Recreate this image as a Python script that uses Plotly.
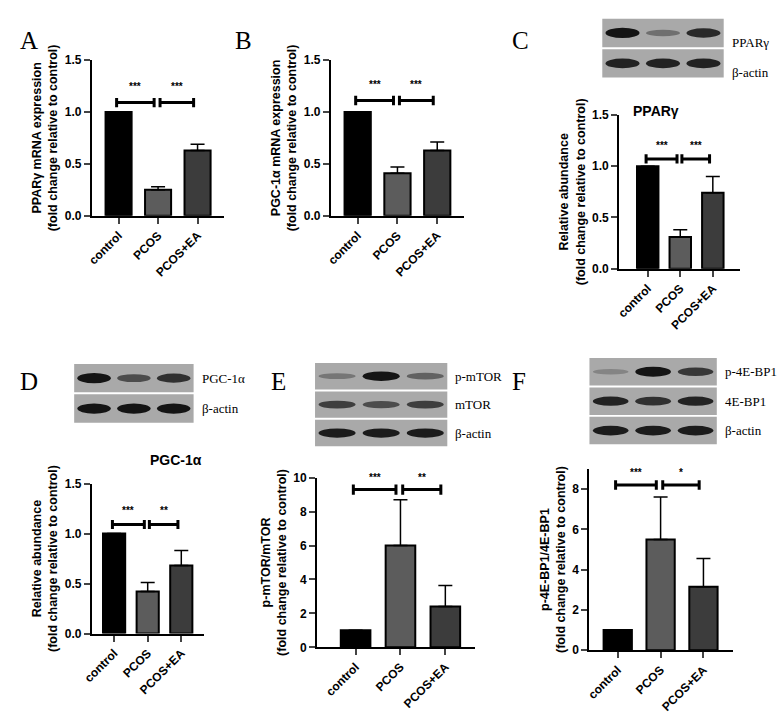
import plotly.graph_objects as go

W, H = 778, 720

groups = ["control", "PCOS", "PCOS+EA"]
bar_colors = ["#000000", "#5c5c5c", "#3c3c3c"]

# means and SEM per panel
a_mean = [1.0, 0.25, 0.63]
a_err = [0.0, 0.03, 0.06]
b_mean = [1.0, 0.41, 0.63]
b_err = [0.0, 0.06, 0.08]
c_mean = [1.0, 0.31, 0.74]
c_err = [0.0, 0.07, 0.16]
d_mean = [1.0, 0.42, 0.68]
d_err = [0.0, 0.09, 0.15]
e_mean = [1.0, 6.0, 2.4]
e_err = [0.0, 2.7, 1.25]
f_mean = [1.0, 5.5, 3.15]
f_err = [0.0, 2.1, 1.4]

# significance marks: (bracket height, star height, left label, right label)
a_sig = (1.09, 1.24, "***", "***")
b_sig = (1.11, 1.26, "***", "***")
c_sig = (1.07, 1.2, "***", "***")
d_sig = (1.09, 1.23, "***", "**")
e_sig = (9.3, 10.0, "***", "**")
f_sig = (8.2, 8.8, "***", "*")

# tick labels
small_ticks = [0, 0.5, 1.0, 1.5]
e_ticks = [0, 2, 4, 6, 8, 10]
f_ticks = [0, 2, 4, 6, 8]

# blot band intensities (0 = none, 1 = strong) per strip
c_blot = [("PPARγ", [1.0, 0.35, 0.85]), ("β-actin", [0.9, 0.9, 0.9])]
d_blot = [("PGC-1α", [1.0, 0.6, 0.8]), ("β-actin", [1.0, 1.0, 1.0])]
e_blot = [("p-mTOR", [0.3, 1.0, 0.45]), ("mTOR", [0.7, 0.6, 0.7]), ("β-actin", [0.95, 0.95, 0.95])]
f_blot = [("p-4E-BP1", [0.2, 1.0, 0.75]), ("4E-BP1", [0.9, 0.8, 0.9]), ("β-actin", [0.95, 0.95, 0.95])]

fig = go.Figure()
FONT = "Arial"


def px_x(x):
    return x / W


def px_y(y):
    return 1 - y / H


def panel(n, mean, err, sig, box, xr, yr, ticks, ytitle, title=None, title_xy=None):
    # box: (x_left, x_right, y_top, y_bottom) pixels of the axes
    xa = "xaxis" if n == 1 else f"xaxis{n}"
    ya = "yaxis" if n == 1 else f"yaxis{n}"
    xs = "x" if n == 1 else f"x{n}"
    ys = "y" if n == 1 else f"y{n}"
    fig.add_trace(go.Bar(
        x=[0, 1, 2], y=mean, width=0.66, xaxis=xs, yaxis=ys,
        marker=dict(color=bar_colors, line=dict(color="black", width=2)),
        error_y=dict(type="data", symmetric=False, array=err, arrayminus=[0, 0, 0],
                     color="black", thickness=1.5, width=7, visible=True),
        showlegend=False, hoverinfo="skip"))
    yb, ys_, l1, l2 = sig
    wing = (ticks[-1]) * 0.03
    for (x0, x1, lab) in [(-0.05, 0.9, l1), (1.05, 1.9, l2)]:
        fig.add_trace(go.Scatter(
            x=[x0, x0, x0, x1, x1, x1], y=[yb - wing, yb + wing, yb, yb, yb + wing, yb - wing],
            mode="lines", line=dict(color="black", width=3), xaxis=xs, yaxis=ys,
            showlegend=False, hoverinfo="skip"))
        fig.add_annotation(x=(x0 + x1) / 2, y=ys_, xref=xs, yref=ys, text=f"<b>{lab}</b>",
                           showarrow=False, font=dict(family=FONT, size=10, color="black"))
    x0, x1, y0, y1 = box
    fig.layout[xa] = dict(domain=[px_x(x0), px_x(x1)], anchor=ys, range=xr,
                          tickvals=[0, 1, 2], ticktext=[f"<b>{g}</b>" for g in groups],
                          tickangle=-45, ticks="outside", ticklen=6, tickwidth=2,
                          showline=True, linewidth=2, linecolor="black", showgrid=False,
                          zeroline=False, tickfont=dict(family=FONT, size=12, color="black"))
    tt = [f"<b>{t:.1f}</b>" if ticks[-1] < 2 else f"<b>{t:d}</b>" for t in ticks]
    fig.layout[ya] = dict(domain=[px_y(y1), px_y(y0)], anchor=xs, range=yr,
                          tickvals=ticks, ticktext=tt,
                          ticks="outside", ticklen=6, tickwidth=2, showline=True, linewidth=2,
                          linecolor="black", showgrid=False, zeroline=False,
                          tickfont=dict(family=FONT, size=12, color="black"),
                          title=dict(text=ytitle, font=dict(family=FONT, size=12.5, color="black"),
                                     standoff=4))
    if title:
        fig.add_annotation(x=px_x(title_xy[0]), y=px_y(title_xy[1]), xref="paper", yref="paper",
                           text=f"<b>{title}</b>", showarrow=False,
                           font=dict(family=FONT, size=14, color="black"))


def blot(strips, x0, x1, y0, strip_h):
    gap = 2
    for i, (name, vals) in enumerate(strips):
        t = y0 + i * (strip_h + gap)
        b = t + strip_h
        fig.add_shape(type="rect", xref="paper", yref="paper", x0=px_x(x0), x1=px_x(x1),
                      y0=px_y(b), y1=px_y(t), fillcolor="#a9a9a9", line=dict(width=0), layer="below")
        lane_w = (x1 - x0) / 3
        for k, v in enumerate(vals):
            if v <= 0:
                continue
            cx = x0 + lane_w * (k + 0.5)
            hw = lane_w * 0.42
            hh = strip_h * 0.08 + strip_h * 0.1 * v
            g = int(160 - 140 * v)
            fig.add_shape(type="circle", xref="paper", yref="paper",
                          x0=px_x(cx - hw), x1=px_x(cx + hw),
                          y0=px_y(t + strip_h / 2 + hh), y1=px_y(t + strip_h / 2 - hh),
                          fillcolor=f"rgb({g},{g},{g})", line=dict(width=0))
        fig.add_annotation(x=px_x(x1 + 6), y=px_y(t + strip_h / 2), xref="paper", yref="paper",
                           xanchor="left", text=name, showarrow=False,
                           font=dict(family="Liberation Serif", size=13, color="black"))


panel(1, a_mean, a_err, a_sig, (83, 217, 54, 213), [-0.675, 2.675], [0, 1.5], small_ticks,
      "<b>PPARγ mRNA expression<br>(fold change relative to control)</b>")
panel(2, b_mean, b_err, b_sig, (325, 460, 54, 213), [-0.675, 2.675], [0, 1.5], small_ticks,
      "<b>PGC-1α mRNA expression<br>(fold change relative to control)</b>")
panel(3, c_mean, c_err, c_sig, (617, 740, 110, 267), [-0.88, 2.85], [0, 1.5], small_ticks,
      "<b>Relative abundance<br>(fold change relative to control)</b>", "PPARγ", (680, 96))
panel(4, d_mean, d_err, d_sig, (83, 197, 486, 639), [-0.66, 2.69], [0, 1.5], small_ticks,
      "<b>Relative abundance<br>(fold change relative to control)</b>", "PGC-1α", (140, 462))
panel(5, e_mean, e_err, e_sig, (311, 471, 480, 653), [-0.86, 2.66], [0, 10], e_ticks,
      "<b>p-mTOR/mTOR<br>(fold change relative to control)</b>")
panel(6, f_mean, f_err, f_sig, (587, 732, 471, 656), [-0.66, 2.68], [0, 9], f_ticks,
      "<b>p-4E-BP1/4E-BP1<br>(fold change relative to control)</b>")

blot(c_blot, 600, 723, 12, 29)
blot(d_blot, 65, 186, 364, 29)
blot(e_blot, 309, 443, 363, 27)
blot(f_blot, 587, 716, 358, 28)

for letter, (lx, ly) in zip("ABCDEF", [(8, 18), (226, 18), (507, 18), (8, 382), (262, 382), (507, 382)]):
    fig.add_annotation(x=px_x(lx), y=px_y(ly), xref="paper", yref="paper", text=letter,
                       showarrow=False, xanchor="left",
                       font=dict(family="Liberation Serif", size=25, color="black"))

fig.update_layout(width=W, height=H, margin=dict(l=0, r=0, t=0, b=0),
                  plot_bgcolor="white", paper_bgcolor="white", bargap=0.3)

# page margin would otherwise push the figure past the window edge
fig.write_html("out.html", post_script="document.body.style.margin='0';",
               config={"displayModeBar": False})
